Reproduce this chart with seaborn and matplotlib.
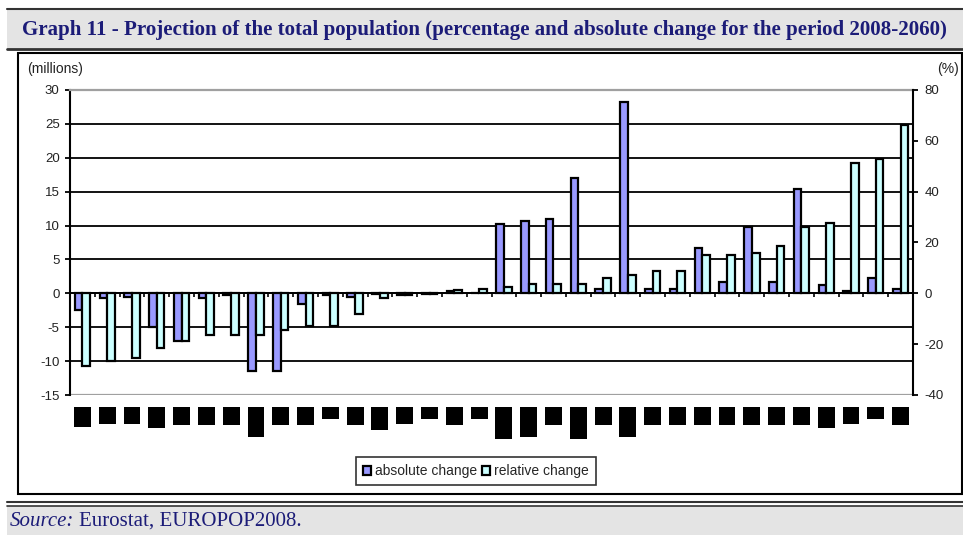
import numpy as np
import pandas as pd
import matplotlib
matplotlib.use("Agg")
import matplotlib.pyplot as plt
import matplotlib.transforms as mtransforms
from matplotlib.patches import Rectangle, Patch
from matplotlib.lines import Line2D
import seaborn as sns

# 34 countries (labels are blacked out in the source picture)
countries = [f"C{i:02d}" for i in range(1, 35)]

# absolute change 2008-2060, millions
abs_change = [-2.4, -0.7, -0.5, -4.9, -7.1, -0.7, -0.2, -11.5, -11.5, -1.5,
              -0.2, -0.6, -0.1, -0.2, -0.1, 0.3, 0.05, 10.2, 10.6, 11.0,
              17.0, 0.6, 28.3, 0.6, 0.6, 6.7, 1.7, 9.8, 1.6, 15.4,
              1.3, 0.3, 2.3, 0.6]

# relative change 2008-2060, %
rel_change = [-28.6, -26.6, -25.3, -21.4, -18.8, -16.2, -16.2, -16.2, -14.3, -13.0,
              -13.0, -8.0, -2.0, -0.5, -0.4, 1.5, 1.7, 2.6, 3.5, 3.5,
              3.5, 6.1, 7.1, 8.7, 8.7, 15.2, 15.2, 16.0, 18.6, 26.2,
              27.5, 51.4, 52.7, 66.2]

# heights (px) of the blacked-out country labels under the axis
label_block_px = [20, 17, 17, 21, 18, 18, 18, 30, 18, 18, 12, 18, 23, 17, 12, 18, 12,
                  32, 30, 18, 32, 18, 30, 18, 18, 18, 18, 18, 18, 18, 21, 17, 12, 18]

series = ["absolute change", "relative change"]
colors = {"absolute change": "#9999ff", "relative change": "#ccffff"}

df_abs = pd.DataFrame({"country": countries, "value": abs_change, "series": series[0]})
df_rel = pd.DataFrame({"country": countries, "value": rel_change, "series": series[1]})

W, H = 963, 535
def fx(x):
    return x / W
def fy(y):
    return 1 - y / H

sns.set_style("white")
plt.rcParams["font.family"] = ["Liberation Sans", "DejaVu Sans"]
plt.rcParams["axes.unicode_minus"] = False

fig = plt.figure(figsize=(W / 100, H / 100), dpi=100)
ax1 = fig.add_axes([fx(70), fy(395), fx(913) - fx(70), fy(90) - fy(395)])
ax2 = ax1.twinx()

bar_kw = dict(x="country", y="value", hue="series", hue_order=series, order=countries,
              palette=colors, saturation=1, width=0.62, dodge=True,
              edgecolor="black", linewidth=1.6, legend=False)
sns.barplot(data=df_abs, ax=ax1, **bar_kw)
sns.barplot(data=df_rel, ax=ax2, **bar_kw)

n = len(countries)
for ax in (ax1, ax2):
    ax.set_xlim(-0.5, n - 0.5)
    ax.set_xlabel("")
    ax.set_ylabel("")

ax1.set_ylim(-15, 30)
ax2.set_ylim(-40, 80)
ax1.set_yticks(np.arange(-15, 31, 5))
ax2.set_yticks(np.arange(-40, 81, 20))

# horizontal gridlines (black), plot-area border in grey
for v in np.arange(-10, 26, 5):
    ax1.axhline(v, color="black", lw=1.3, zorder=0.5)
ax1.axhline(-15, color="#a0a0a0", lw=1.6, zorder=0.5)

ax1.spines["top"].set_color("#a0a0a0")
ax1.spines["top"].set_linewidth(1.6)
ax1.spines["left"].set_color("black")
ax1.spines["left"].set_linewidth(1.5)
ax1.spines["right"].set_visible(False)
ax1.spines["bottom"].set_position(("data", 0))
ax1.spines["bottom"].set_color("black")
ax1.spines["bottom"].set_linewidth(1.3)

for s in ("top", "bottom", "left"):
    ax2.spines[s].set_visible(False)
ax2.spines["right"].set_color("black")
ax2.spines["right"].set_linewidth(1.5)

# category ticks at group boundaries on the zero line
ax1.set_xticks(np.arange(-0.5, n, 1))
ax1.set_xticklabels([])
ax1.tick_params(axis="x", bottom=True, direction="out", length=3, width=1.2, color="black")
ax2.tick_params(axis="x", bottom=False, labelbottom=False)

ax1.tick_params(axis="y", left=True, direction="out", length=3.5, width=1.3,
                labelsize=9.5, pad=4, colors="black", labelcolor="#222222")
ax2.tick_params(axis="y", right=True, direction="out", length=3.5, width=1.3,
                labelsize=9.5, pad=5, colors="black", labelcolor="#222222")
ax1.patch.set_visible(False)
ax2.patch.set_visible(False)

# blacked-out country labels
blend = mtransforms.blended_transform_factory(ax1.transData, fig.transFigure)
for i, h in enumerate(label_block_px):
    ax1.add_patch(Rectangle((i - 0.34, fy(407 + h)), 0.68, h / H, transform=blend,
                            facecolor="black", edgecolor="none", clip_on=False))

# axis unit labels
fig.text(fx(27), fy(69), "(millions)", fontsize=10, color="#222222", va="center", ha="left")
fig.text(fx(959), fy(69), "(%)", fontsize=10, color="#222222", va="center", ha="right")

# legend
handles = [Patch(facecolor=colors[s], edgecolor="black", linewidth=1.6) for s in series]
leg = fig.legend(handles, series, loc="center", bbox_to_anchor=(fx(476), fy(471)),
                 ncol=2, fontsize=10, frameon=True, fancybox=False, edgecolor="black",
                 handlelength=0.6, handleheight=0.6, handletextpad=0.3,
                 columnspacing=0.3, borderpad=0.5, borderaxespad=0)
leg.get_frame().set_linewidth(1.2)

# chart box
fig.add_artist(Rectangle((fx(18), fy(494)), fx(962) - fx(18), fy(53) - fy(494),
                         transform=fig.transFigure, facecolor="none",
                         edgecolor="black", linewidth=1.5))

# title banner
fig.add_artist(Rectangle((fx(7), fy(49)), 1 - fx(7), fy(9) - fy(49),
                         transform=fig.transFigure, facecolor="#e4e4e4", edgecolor="none"))
for yy, lw in ((9, 1.5), (49, 2.0)):
    fig.add_artist(Line2D([fx(7), 1], [fy(yy), fy(yy)], transform=fig.transFigure,
                          color="#333333", linewidth=lw))
fig.text(fx(22), fy(30),
         "Graph 11 - Projection of the total population (percentage and absolute change for the period 2008-2060)",
         family=["Liberation Serif", "DejaVu Serif"], fontweight="bold", fontsize=15.1,
         color="#1c1c78", va="center", ha="left")

# source banner
fig.add_artist(Rectangle((fx(7), 0), 1 - fx(7), fy(506),
                         transform=fig.transFigure, facecolor="#e4e4e4", edgecolor="none"))
for yy, lw in ((502, 1.5), (505.5, 1.2)):
    fig.add_artist(Line2D([fx(7), 1], [fy(yy), fy(yy)], transform=fig.transFigure,
                          color="#333333", linewidth=lw))
t1 = fig.text(fx(10), fy(521), "Source:", family=["Liberation Serif", "DejaVu Serif"],
              style="italic", fontsize=15, color="#1c1c78", va="center", ha="left")
fig.canvas.draw()
bb = t1.get_window_extent()
fig.text(bb.x1 / W + fx(5), fy(521), "Eurostat, EUROPOP2008.",
         family=["Liberation Serif", "DejaVu Serif"], fontsize=15,
         color="#1c1c78", va="center", ha="left")

fig.savefig("out.png", dpi=100)
